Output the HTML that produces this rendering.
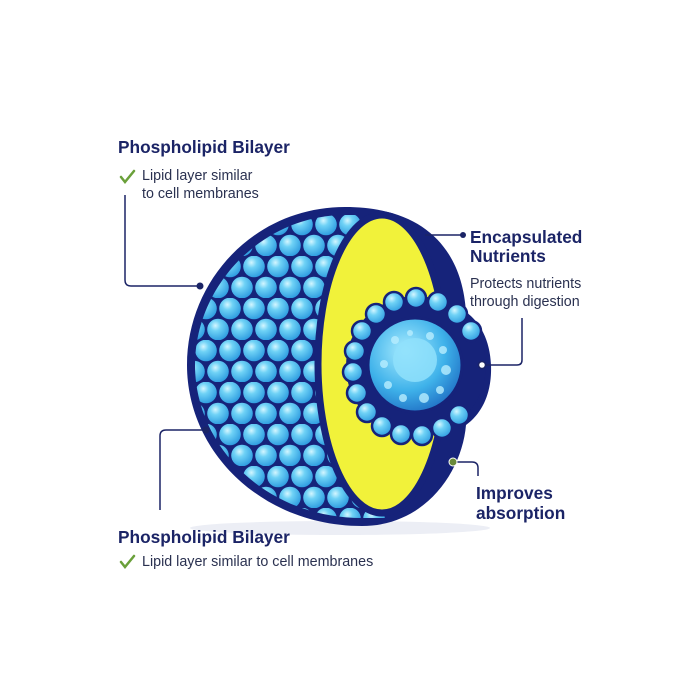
<!DOCTYPE html>
<html><head><meta charset="utf-8"><style>
html,body{margin:0;padding:0;background:#fff}
svg{display:block}
text{font-family:"Liberation Sans",sans-serif}
.t{font-weight:bold;fill:#1b2466;font-size:17.3px}
.b{fill:#2a3150;font-size:14.3px}
</style></head><body>
<svg width="700" height="700" viewBox="0 0 700 700">
<defs>
<radialGradient id="bg" cx="0.38" cy="0.32" r="0.7">
<stop offset="0" stop-color="#d4f6ff"/><stop offset="0.35" stop-color="#6fd2f6"/><stop offset="1" stop-color="#2f9de0"/>
</radialGradient>
<pattern id="bub" width="24" height="42" patternUnits="userSpaceOnUse" x="2" y="4">
<rect width="24" height="42" fill="#16237a"/>
<circle cx="12" cy="10.5" r="10.8" fill="url(#bg)"/>
<circle cx="0" cy="31.5" r="10.8" fill="url(#bg)"/>
<circle cx="24" cy="31.5" r="10.8" fill="url(#bg)"/>
</pattern>
<radialGradient id="core" cx="0.4" cy="0.35" r="0.7">
<stop offset="0" stop-color="#a9ecff"/><stop offset="0.6" stop-color="#3fb2ea"/><stop offset="1" stop-color="#1f6fc4"/>
</radialGradient>
</defs>
<rect width="700" height="700" fill="#fff"/>
<ellipse cx="340" cy="528" rx="150" ry="7" fill="#eceef5"/>
<path d="M345,207 C255,207 187,280 187,365 C187,452 262,526 362,526 C425,526 462,472 466,425 C484,412 492,390 491,365 C490,340 480,322 466,312 C462,250 425,207 345,207 Z" fill="#16237a"/>
<path d="M345,215 C263,215 195,285 195,365 C195,446 265,518 362,518 L385,518 L385,215 Z" fill="url(#bub)"/>
<ellipse cx="382" cy="364" rx="64" ry="149" fill="#f1f23a" stroke="#16237a" stroke-width="7"/>
<g>
<circle cx="416" cy="366" r="70" fill="#16237a"/>
<g fill="url(#bg)" stroke="#16237a" stroke-width="2.5">
<circle cx="416" cy="298" r="10"/><circle cx="438" cy="302" r="10"/><circle cx="457" cy="314" r="10"/><circle cx="471" cy="331" r="10"/>
<circle cx="394" cy="302" r="10"/><circle cx="376" cy="314" r="10"/><circle cx="362" cy="331" r="10"/><circle cx="355" cy="351" r="10"/>
<circle cx="353" cy="372" r="10"/><circle cx="357" cy="393" r="10"/><circle cx="367" cy="412" r="10"/><circle cx="382" cy="426" r="10"/>
<circle cx="401" cy="434" r="10"/><circle cx="422" cy="435" r="10"/><circle cx="442" cy="428" r="10"/><circle cx="459" cy="415" r="10"/>
</g>
<circle cx="415" cy="365" r="47" fill="url(#core)" stroke="#16237a" stroke-width="3"/>
<circle cx="415" cy="360" r="22" fill="#8fe0fb" opacity="0.85"/>
<g fill="#b8eeff" opacity="0.8">
<circle cx="395" cy="340" r="4"/><circle cx="410" cy="333" r="3"/><circle cx="430" cy="336" r="4"/><circle cx="443" cy="350" r="4"/>
<circle cx="446" cy="370" r="5"/><circle cx="440" cy="390" r="4"/><circle cx="424" cy="398" r="5"/><circle cx="403" cy="398" r="4"/>
<circle cx="388" cy="385" r="4"/><circle cx="384" cy="364" r="4"/>
</g>
</g>
<g fill="none" stroke="#1b2466" stroke-width="1.5">
<path d="M125,195 V280 Q125,286 131,286 H200"/>
<path d="M425,235 H462"/>
<path d="M522,318 V360 Q522,365 517,365 H482"/>
<path d="M160,510 V436 Q160,430 166,430 H206"/>
<path d="M455,462 H472 Q478,462 478,468 V476"/>
</g>
<g fill="#1b2466">
<circle cx="200" cy="286" r="3.5"/><circle cx="463" cy="235" r="3"/><circle cx="206" cy="430" r="3.5"/>
</g>
<circle cx="482" cy="365" r="3.5" fill="#fff" stroke="#1b2466" stroke-width="1.5"/>
<circle cx="453" cy="462" r="4" fill="#6a8a3a" stroke="#fff" stroke-width="1"/>
<text x="118" y="153" class="t">Phospholipid Bilayer</text>
<path d="M121,177 l4,5 l9,-11" fill="none" stroke="#6aa03a" stroke-width="2.5" stroke-linecap="round"/>
<text x="142" y="180" class="b">Lipid layer similar</text>
<text x="142" y="198" class="b">to cell membranes</text>
<text x="470" y="243" class="t">Encapsulated</text>
<text x="470" y="262" class="t">Nutrients</text>
<text x="470" y="288" class="b">Protects nutrients</text>
<text x="470" y="306" class="b">through digestion</text>
<text x="476" y="499" class="t">Improves</text>
<text x="476" y="519" class="t">absorption</text>
<text x="118" y="543" class="t">Phospholipid Bilayer</text>
<path d="M121,562 l4,5 l9,-11" fill="none" stroke="#6aa03a" stroke-width="2.5" stroke-linecap="round"/>
<text x="142" y="566" class="b">Lipid layer similar to cell membranes</text>
</svg>
</body></html>
